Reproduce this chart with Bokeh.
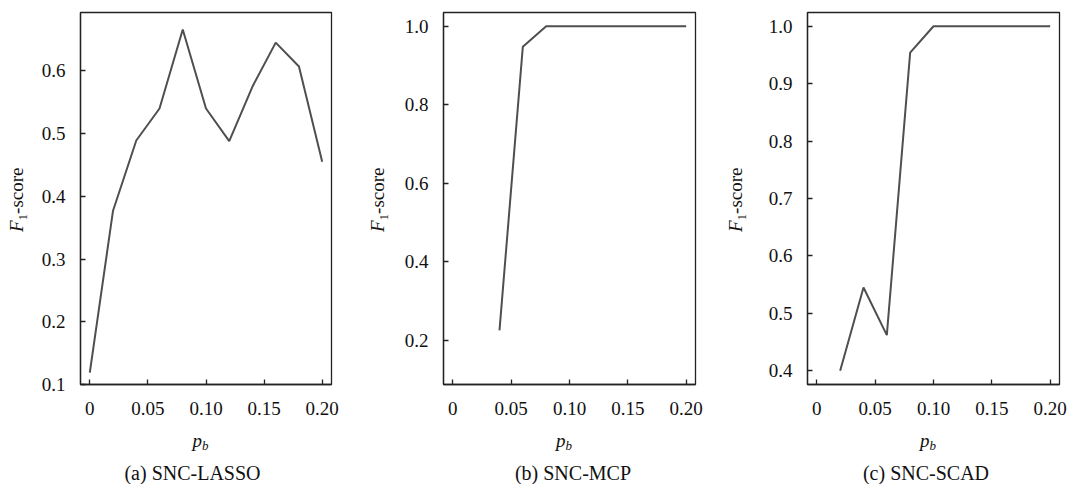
from bokeh.plotting import figure
from bokeh.models import Range1d, FixedTicker, Div
from bokeh.layouts import row, column
from bokeh.embed import file_html
from bokeh.resources import INLINE

# ---- data ----
pb_lasso = [0.00, 0.02, 0.04, 0.06, 0.08, 0.10, 0.12, 0.14, 0.16, 0.18, 0.20]
f1_lasso = [0.119, 0.377, 0.489, 0.540, 0.666, 0.540, 0.488, 0.575, 0.645, 0.607, 0.455]

pb_mcp = [0.04, 0.06, 0.08, 0.10, 0.12, 0.14, 0.16, 0.18, 0.20]
f1_mcp = [0.225, 0.948, 1.0, 1.0, 1.0, 1.0, 1.0, 1.0, 1.0]

pb_scad = [0.02, 0.04, 0.06, 0.08, 0.10, 0.12, 0.14, 0.16, 0.18, 0.20]
f1_scad = [0.400, 0.545, 0.462, 0.954, 1.0, 1.0, 1.0, 1.0, 1.0, 1.0]

x_ticks = [0.0, 0.05, 0.10, 0.15, 0.20]
x_tick_labels = ["0", "0.05", "0.10", "0.15", "0.20"]

y_ticks_lasso = [0.1, 0.2, 0.3, 0.4, 0.5, 0.6]
y_labels_lasso = ["0.1", "0.2", "0.3", "0.4", "0.5", "0.6"]
y_ticks_mcp = [0.2, 0.4, 0.6, 0.8, 1.0]
y_labels_mcp = ["0.2", "0.4", "0.6", "0.8", "1.0"]
y_ticks_scad = [0.4, 0.5, 0.6, 0.7, 0.8, 0.9, 1.0]
y_labels_scad = ["0.4", "0.5", "0.6", "0.7", "0.8", "0.9", "1.0"]

captions = ["(a) SNC-LASSO", "(b) SNC-MCP", "(c) SNC-SCAD"]

FONT = "Liberation Serif"
CSS_FONT = "font-family:Liberation Serif,Times New Roman,Tinos,serif;"
INK = "#222222"
LINE = "#4f4f4f"
X0, X1 = -0.008, 0.208
TOTAL_H = 484
FIG_H = 428
TOP, BOTTOM = 12, 44
YDIV_W = 30
LABEL_START_Y = 232


def ylabel_div(left):
    html = ('<div style="width:max-content;white-space:nowrap;' + CSS_FONT +
            'font-size:19px;line-height:19px;color:#111111;transform-origin:0 0;'
            f'transform:translate({left}px,{LABEL_START_Y}px) rotate(-90deg);">'
            '<i>F</i><sub style="font-size:13px;line-height:0;vertical-align:-4px;">1</sub>'
            '-score</div>')
    return Div(text=html, width=YDIV_W, height=TOTAL_H, margin=0)


def bottom_div(figw, bl, fw, caption, cap_dx):
    fc = bl + fw / 2.0 - figw / 2.0
    s1 = round(fc - 5, 1)
    s2 = round(fc + cap_dx, 1)
    html = ('<div style="' + CSS_FONT + f'color:#111111;width:{figw}px;padding-top:3px;">'
            f'<div style="height:19px;font-size:19px;line-height:19px;text-align:center;'
            f'position:relative;left:{s1}px;"><i>p<sub style="font-size:13px;line-height:0;'
            'vertical-align:-3px;">b</sub></i></div>'
            f'<div style="margin-top:13px;height:20px;font-size:20px;line-height:20px;'
            f'text-align:center;white-space:nowrap;position:relative;left:{s2}px;">'
            f'{caption}</div></div>')
    return Div(text=html, width=figw, height=TOTAL_H - FIG_H, margin=0)


def panel(figw, bl, br, xs, ys, yr, yt, ytl, caption, cap_dx, ylab_left):
    p = figure(width=figw, height=FIG_H, output_backend="svg", toolbar_location=None,
               x_range=Range1d(X0, X1), y_range=Range1d(*yr),
               min_border_left=bl, min_border_right=br, min_border_top=TOP,
               min_border_bottom=BOTTOM)
    p.xgrid.visible = False
    p.ygrid.visible = False
    p.outline_line_color = INK
    p.outline_line_width = 1.3
    p.outline_line_alpha = 1.0
    p.background_fill_color = "white"
    p.border_fill_color = "white"

    p.line(xs, ys, line_color=LINE, line_width=2.0)

    for ax in (p.xaxis[0], p.yaxis[0]):
        ax.axis_line_color = INK
        ax.axis_line_width = 1.3
        ax.major_tick_line_color = INK
        ax.major_tick_line_width = 1.3
        ax.major_tick_in = 5
        ax.major_tick_out = 0
        ax.minor_tick_line_color = None
        ax.major_label_text_font = FONT
        ax.major_label_text_font_size = "19px"
        ax.major_label_text_color = "#111111"
    p.xaxis[0].major_label_standoff = 17
    p.yaxis[0].major_label_standoff = 15
    p.xaxis[0].ticker = FixedTicker(ticks=x_ticks)
    p.xaxis[0].major_label_overrides = {t: s for t, s in zip(x_ticks, x_tick_labels)}
    p.yaxis[0].ticker = FixedTicker(ticks=yt)
    p.yaxis[0].major_label_overrides = {t: s for t, s in zip(yt, ytl)}

    fw = figw - bl - br
    return row(ylabel_div(ylab_left),
               column(p, bottom_div(figw, bl, fw, caption, cap_dx), spacing=0),
               spacing=0)


pa = panel(335, 50, 34, pb_lasso, f1_lasso, (0.1, 0.693), y_ticks_lasso, y_labels_lasso,
           captions[0], -13, 7)
pbm = panel(330, 48, 30, pb_mcp, f1_mcp, (0.087, 1.035), y_ticks_mcp, y_labels_mcp,
            captions[1], 4, 3)
pc = panel(315, 52, 11, pb_scad, f1_scad, (0.376, 1.024), y_ticks_scad, y_labels_scad,
           captions[2], -7, 1)

layout = row(pa, pbm, pc, spacing=0)
open("out.html", "w").write(file_html(layout, INLINE))
